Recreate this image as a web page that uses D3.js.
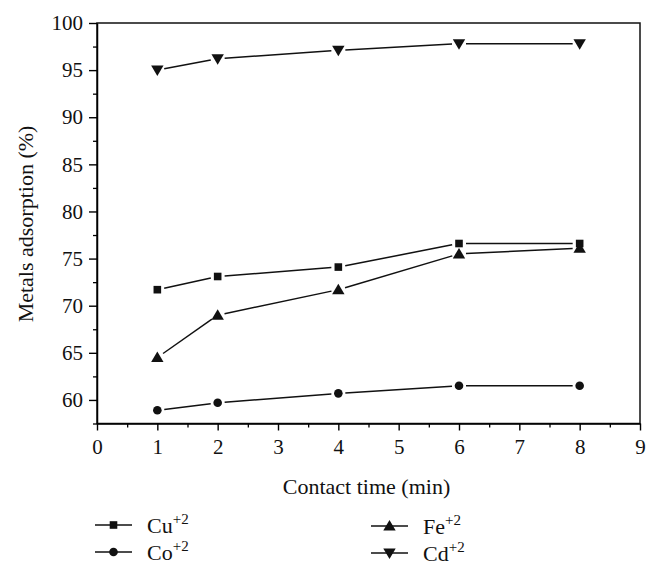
<!DOCTYPE html>
<html>
<head>
<meta charset="utf-8">
<style>
body { margin: 0; background: #fff; }
text { font-family: "Liberation Serif", "DejaVu Serif", serif; fill: #111; }
</style>
</head>
<body>
<svg width="657" height="574"></svg>
<script src="https://d3js.org/d3.v7.min.js"></script>
<script>

// contact time (min)
var times = [1, 2, 4, 6, 8]

var cu = [71.7, 73.1, 74.1, 76.6, 76.6]
var co = [58.9, 59.7, 60.7, 61.5, 61.5]
var fe = [64.5, 69.0, 71.7, 75.5, 76.1]
var cd = [95.0, 96.2, 97.1, 97.8, 97.8]

var xTicks = [0, 1, 2, 3, 4, 5, 6, 7, 8, 9]
var yTicks = [60, 65, 70, 75, 80, 85, 90, 95, 100]

var series = [
	{name: 'Cu', values: cu, symbol: 'square', lx: 95, ly: 525},
	{name: 'Co', values: co, symbol: 'circle', lx: 95, ly: 552},
	{name: 'Fe', values: fe, symbol: 'up', lx: 371, ly: 526},
	{name: 'Cd', values: cd, symbol: 'down', lx: 371, ly: 553}
]

var pL = 97, pR = 640, pT = 23, pB = 423.5

var svg = d3.select('svg')

var x = d3.scaleLinear().domain([0, 9]).range([pL, pR])
var y = d3.scaleLinear().domain([57.5, 100]).range([pB, pT])

// frame
svg.append('rect')
	.attr('x', pL).attr('y', pT)
	.attr('width', pR - pL).attr('height', pB - pT)
	.style('fill', 'none').style('stroke', '#111').style('stroke-width', 1.5)

// minor ticks first, then major axes on top
var xMinor = d3.range(0.5, 9, 1)
var yMinor = d3.range(57.5, 100, 5)

svg.append('g')
	.attr('transform', 'translate(0,' + pB + ')')
	.call(d3.axisBottom(x).tickValues(xMinor).tickSize(4).tickFormat(''))
	.call(g => g.select('.domain').remove())
	.selectAll('line').style('stroke-width', 1.3)

svg.append('g')
	.attr('transform', 'translate(' + pL + ',0)')
	.call(d3.axisLeft(y).tickValues(yMinor).tickSize(4).tickFormat(''))
	.call(g => g.select('.domain').remove())
	.selectAll('line').style('stroke-width', 1.3)

var xAxis = svg.append('g')
	.attr('transform', 'translate(0,' + pB + ')')
	.call(d3.axisBottom(x).tickValues(xTicks).tickSize(7).tickPadding(9).tickSizeOuter(0))
xAxis.select('.domain').style('stroke-width', 1.5)
xAxis.selectAll('line').style('stroke-width', 1.4)
xAxis.selectAll('text').style('font-size', '21px').attr('font-family', null)

var yAxis = svg.append('g')
	.attr('transform', 'translate(' + pL + ',0)')
	.call(d3.axisLeft(y).tickValues(yTicks).tickSize(8).tickPadding(6).tickSizeOuter(0))
yAxis.select('.domain').style('stroke-width', 1.5)
yAxis.selectAll('line').style('stroke-width', 1.4)
yAxis.selectAll('text').style('font-size', '21px').attr('font-family', null)

// axis titles
svg.append('text')
	.attr('x', (pL + pR) / 2 - 2).attr('y', 494)
	.attr('text-anchor', 'middle')
	.style('font-size', '22px')
	.text('Contact time (min)')

svg.append('text')
	.attr('transform', 'translate(33,' + 224 + ') rotate(-90)')
	.attr('text-anchor', 'middle')
	.style('font-size', '22px')
	.text('Metals adsorption (%)')

function marker(g, sym, cx, cy) {
	if (sym == 'square') {
		g.append('rect').attr('x', cx - 3.8).attr('y', cy - 3.8).attr('width', 7.6).attr('height', 7.6)
			.style('fill', '#111')
	} else if (sym == 'circle') {
		g.append('circle').attr('cx', cx).attr('cy', cy).attr('r', 4.3).style('fill', '#111')
	} else if (sym == 'up') {
		g.append('path').attr('d', 'M' + cx + ',' + (cy - 6) + 'L' + (cx + 6.2) + ',' + (cy + 4.5) + 'L' + (cx - 6.2) + ',' + (cy + 4.5) + 'Z')
			.style('fill', '#111')
	} else {
		g.append('path').attr('d', 'M' + cx + ',' + (cy + 6) + 'L' + (cx + 6.2) + ',' + (cy - 4.5) + 'L' + (cx - 6.2) + ',' + (cy - 4.5) + 'Z')
			.style('fill', '#111')
	}
}

var gap = 7

series.forEach(function(s) {
	var g = svg.append('g')
	var pts = times.map((t, i) => [x(t), y(s.values[i])])
	// line segments stop short of each marker
	for (var i = 0; i < pts.length - 1; i++) {
		var dx = pts[i + 1][0] - pts[i][0], dy = pts[i + 1][1] - pts[i][1]
		var len = Math.sqrt(dx * dx + dy * dy)
		var ux = dx / len, uy = dy / len
		g.append('line')
			.attr('x1', pts[i][0] + ux * gap).attr('y1', pts[i][1] + uy * gap)
			.attr('x2', pts[i + 1][0] - ux * gap).attr('y2', pts[i + 1][1] - uy * gap)
			.style('stroke', '#111').style('stroke-width', 1.5)
	}
	pts.forEach(p => marker(g, s.symbol, p[0], p[1]))

	// legend entry
	var lg = svg.append('g')
	lg.append('line')
		.attr('x1', s.lx).attr('y1', s.ly).attr('x2', s.lx + 37).attr('y2', s.ly)
		.style('stroke', '#111').style('stroke-width', 1.5)
	marker(lg, s.symbol, s.lx + 18.5, s.ly)
	var t = lg.append('text')
		.attr('x', s.lx + 52).attr('y', s.ly + 8)
		.style('font-size', '22px')
	t.append('tspan').text(s.name)
	t.append('tspan').attr('dy', -9).style('font-size', '15px').text('+2')
})

</script>
</body>
</html>
